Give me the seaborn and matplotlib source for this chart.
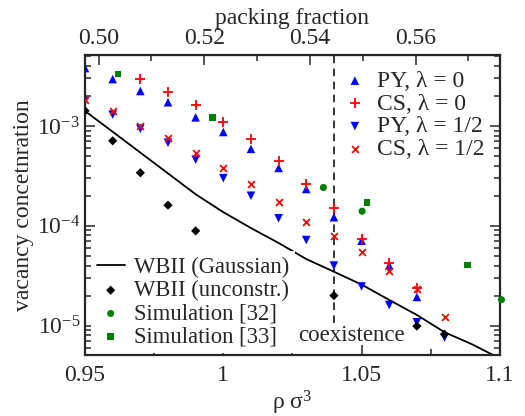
import numpy as np
import pandas as pd
import matplotlib
matplotlib.use("Agg")
import matplotlib.pyplot as plt
import matplotlib.ticker as mticker
import seaborn as sns

sns.set_style("ticks")
plt.rcParams["font.family"] = ["Liberation Serif", "DejaVu Serif"]
plt.rcParams["mathtext.fontset"] = "custom"
plt.rcParams["mathtext.rm"] = "Liberation Serif"
plt.rcParams["mathtext.it"] = "Liberation Serif:italic"
plt.rcParams["font.size"] = 17

# ---------------- data ----------------
rho = [0.95, 0.96, 0.97, 0.98, 0.99, 1.00, 1.01, 1.02, 1.03, 1.04, 1.05, 1.06, 1.07, 1.08]

py0_rho = [0.95, 0.96, 0.97, 0.98, 0.99, 1.00, 1.01, 1.02, 1.03, 1.04, 1.05, 1.06, 1.07]
py0 = [3.8e-3, 2.95e-3, 2.24e-3, 1.73e-3, 1.22e-3, 8.7e-4, 5.9e-4, 3.8e-4,
       2.34e-4, 1.22e-4, 7.1e-5, 4.0e-5, 1.94e-5]

cs0_rho = [0.97, 0.98, 0.99, 1.00, 1.01, 1.02, 1.03, 1.04, 1.05, 1.06, 1.07]
cs0 = [2.93e-3, 2.2e-3, 1.61e-3, 1.10e-3, 7.4e-4, 4.5e-4, 2.6e-4, 1.5e-4,
       7.4e-5, 4.2e-5, 2.4e-5]

py_half = [1.78e-3, 1.30e-3, 9.4e-4, 6.8e-4, 4.6e-4, 3.0e-4, 2.0e-4, 1.19e-4,
           7.2e-5, 4.0e-5, 2.47e-5, 1.61e-5, 1.08e-5, 7.6e-6]

cs_half = [1.82e-3, 1.42e-3, 1.0e-3, 7.6e-4, 5.4e-4, 3.8e-4, 2.63e-4, 1.72e-4,
           1.10e-4, 7.9e-5, 5.5e-5, 3.55e-5, 2.33e-5, 1.21e-5]

wb_rho = [0.95, 0.96, 0.97, 0.98, 0.99, 1.00, 1.01, 1.02, 1.03, 1.04, 1.05,
          1.06, 1.07, 1.08, 1.09, 1.10]
wb_gauss = [1.41e-3, 8.75e-4, 5.41e-4, 3.35e-4, 2.07e-4, 1.37e-4, 9.5e-5, 6.73e-5,
            4.65e-5, 3.47e-5, 2.58e-5, 1.81e-5, 1.28e-5, 8.6e-6, 6.5e-6, 4.7e-6]

unc_rho = [0.95, 0.96, 0.97, 0.98, 0.99, 1.04, 1.07, 1.08]
wb_unc = [1.42e-3, 7.1e-4, 3.4e-4, 1.61e-4, 8.9e-5, 2.0e-5, 9.9e-6, 8.2e-6]

sim32_rho = [1.0362, 1.0502, 1.1006]
sim32 = [2.42e-4, 1.40e-4, 1.82e-5]

sim33_rho = [0.962, 0.9961, 1.052, 1.0884]
sim33 = [3.33e-3, 1.21e-3, 1.71e-4, 4.05e-5]

rho_coex = 1.04

# ---------------- figure ----------------
fig = plt.figure(figsize=(5.25, 4.16), dpi=100)
ax = fig.add_axes([0.162, 0.147, 0.790, 0.721])

sns.scatterplot(x=py0_rho, y=py0, marker="^", color="blue", s=38,
                edgecolor="none", label="PY, λ = 0", ax=ax, zorder=3)
sns.scatterplot(x=cs0_rho, y=cs0, marker="+", color="red", s=45,
                linewidth=1.3, label="CS, λ = 0", ax=ax, zorder=4)
sns.scatterplot(x=rho, y=py_half, marker="v", color="blue", s=38,
                edgecolor="none", label="PY, λ = 1/2", ax=ax, zorder=3)
sns.scatterplot(x=rho, y=cs_half, marker="x", color="red", s=24,
                linewidth=1.3, label="CS, λ = 1/2", ax=ax, zorder=4)

sns.lineplot(x=wb_rho, y=wb_gauss, color="black", lw=1.3,
             label="WBII (Gaussian)", ax=ax, zorder=2)
sns.scatterplot(x=unc_rho, y=wb_unc, marker="D", color="black", s=22,
                edgecolor="none", label="WBII (unconstr.)", ax=ax, zorder=5)
sns.scatterplot(x=sim32_rho, y=sim32, marker="o", color="green", s=26,
                edgecolor="none", label="Simulation [32]", ax=ax, zorder=5,
                clip_on=False)
sns.scatterplot(x=sim33_rho, y=sim33, marker="s", color="green", s=22,
                edgecolor="none", label="Simulation [33]", ax=ax, zorder=5)

ax.axvline(rho_coex, ymin=0.107, ymax=1, color="black", ls=(0, (5, 3.5)), lw=1.1, zorder=1)
ax.text(1.0465, 7.9e-6, "coexistence", ha="center", va="center", fontsize=16.5,
        zorder=7)

ax.set_yscale("log")
ax.set_xlim(0.95, 1.10)
ax.set_ylim(5.1e-6, 5.15e-3)

ax.xaxis.set_major_locator(mticker.FixedLocator([0.95, 1.0, 1.05, 1.10]))
ax.xaxis.set_major_formatter(mticker.FuncFormatter(lambda v, p: f"{v:g}"))
ax.xaxis.set_minor_locator(mticker.FixedLocator([0.975, 1.025, 1.075]))
ax.yaxis.set_major_locator(mticker.LogLocator(base=10))
ax.yaxis.set_minor_locator(mticker.LogLocator(base=10, subs=np.arange(2, 10)))
ax.yaxis.set_minor_formatter(mticker.NullFormatter())

ax.tick_params(which="both", direction="in", top=False, right=True,
               labelsize=17, width=1.1)
ax.tick_params(axis="x", which="major", pad=7)
ax.tick_params(which="major", length=7)
ax.tick_params(which="minor", length=4)
for sp in ax.spines.values():
    sp.set_linewidth(1.6)

ax.set_xlabel(r"ρ σ$^3$", fontsize=17, labelpad=2)
ax.set_ylabel("vacancy concetnration", fontsize=17, labelpad=2)

top = ax.secondary_xaxis("top", functions=(lambda r: r * np.pi / 6, lambda p: p * 6 / np.pi))
top.xaxis.set_major_locator(mticker.FixedLocator([0.50, 0.52, 0.54, 0.56]))
top.xaxis.set_major_formatter(mticker.FormatStrFormatter("%.2f"))
top.xaxis.set_minor_locator(mticker.FixedLocator([0.51, 0.53, 0.55, 0.57]))
top.tick_params(which="both", direction="in", labelsize=17, width=1.1)
top.tick_params(which="major", length=7, pad=4)
top.tick_params(which="minor", length=4)
top.set_xlabel("packing fraction", fontsize=17, labelpad=3)

handles, labels = ax.get_legend_handles_labels()
leg1 = ax.legend(handles[:4], labels[:4], loc="upper left",
                 bbox_to_anchor=(0.605, 0.98), frameon=False, fontsize=17,
                 handlelength=0.8, handletextpad=0.55, labelspacing=0.05,
                 borderpad=0.4, borderaxespad=0)
ax.add_artist(leg1)
ax.legend(handles[4:], labels[4:], loc="lower left",
          bbox_to_anchor=(0.014, 0.005), frameon=True, fancybox=False,
          facecolor="white", edgecolor="none", framealpha=1, fontsize=16.3,
          handlelength=1.25, handletextpad=0.4, labelspacing=0.1,
          borderpad=0.25, borderaxespad=0)

fig.savefig("out.png", dpi=100)
